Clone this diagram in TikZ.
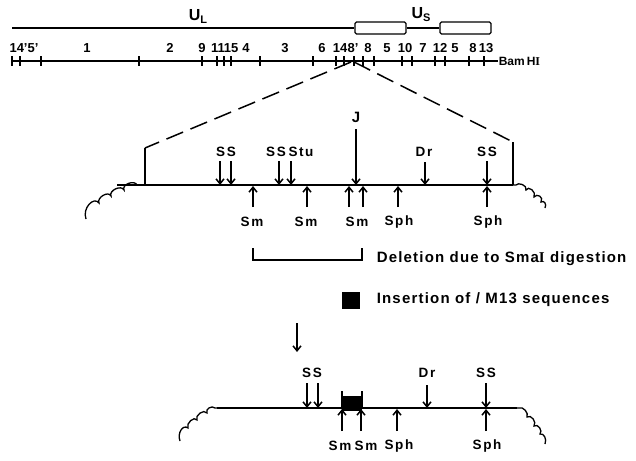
\documentclass[tikz,border=0pt]{standalone}
\usepackage{fontspec}
\setmainfont{Liberation Sans}
\newfontfamily\labfont[LetterSpace=12]{Liberation Sans}
\newfontfamily\txtfont[LetterSpace=8]{Liberation Sans}
\newfontfamily\serifI{Liberation Serif}
\usetikzlibrary{arrows.meta}
\begin{document}
\begin{tikzpicture}[x=1pt,y=-1pt,line width=1.5pt,
  num/.style={font=\fontsize{13}{13}\selectfont\bfseries, inner sep=0pt},
  site/.style={font=\labfont\fontsize{13.5}{13.5}\selectfont\bfseries, inner sep=0pt},
  legend/.style={font=\txtfont\fontsize{15}{15}\selectfont\bfseries, inner sep=0pt, anchor=west},
  arr/.style={-{Straight Barb[length=5pt,width=8pt]}, line width=1.5pt},
  longdash/.style={dash pattern=on 18pt off 8pt, line width=1.5pt},
  tick/.style={line width=1.3pt},
  regbox/.style={draw, rounded corners=1.5pt, minimum width=51pt, minimum height=12pt, inner sep=0pt, line width=1.4pt}]
\useasboundingbox (0,0) rectangle (636,460);

% ---------- top map ----------
\coordinate (ulstart) at (12,28);
\node[regbox] (box1) at (380.5,28) {};
\node[regbox] (box2) at (465.5,28) {};
\draw (ulstart) -- (box1.west);
\draw (box1.east) -- (box2.west);
\node[font=\fontsize{16}{16}\selectfont\bfseries, inner sep=0pt] (ul) at (198,16) {U\raisebox{-3pt}{\fontsize{11}{11}\selectfont\bfseries L}};
\node[font=\fontsize{16}{16}\selectfont\bfseries, inner sep=0pt] (us) at (421,15) {U\raisebox{-3pt}{\fontsize{11}{11}\selectfont\bfseries S}};

% BamHI line
\coordinate (bstart) at (12,61);
\node[font=\fontsize{12}{12}\selectfont\bfseries, inner sep=0pt, anchor=west] (bam) at (498,61) {Bam\,H{\serifI I}};
\draw (bstart) -- (bam.west);
\foreach \x in {12,20,41,139,202,217,224,231,260,313,336,344,354,363,374,402,412,435,445,469,484}
  \draw[tick] (\x,56) -- (\x,66);
\foreach \x/\t in {24/14'5',87/1,170/2,202/9,218/11,231/15,246/4,285/3,322/6,340/14,353/8',368/8,387/5,405/10,423/7,440/12,455/5,473/8,486/13}
  \node[num] at (\x,48) {\t};

% ---------- expansion ----------
\coordinate (dl) at (351,62);
\coordinate (dr) at (354,62);
\coordinate (pl) at (145,148);
\coordinate (pr) at (513,142);
\coordinate (plb) at (145,185);
\coordinate (prb) at (513,185);
\draw[longdash] (dl) -- (pl);
\draw[longdash] (dr) -- (pr);
\draw (pl) -- (plb);
\draw (pr) -- (prb);

% main line with clouds
\coordinate (mstart) at (117,185);
\draw (mstart) -- (prb);
\draw[line width=1.3pt] (137,185) .. controls (134.5,179.5) and (121.5,184.5) .. (124,190)
  .. controls (121.5,184.5) and (108.5,190.5) .. (111,196)
  .. controls (108.5,190.5) and (96.5,197.5) .. (99,203)
  .. controls (94,196) and (82,208) .. (86,219);
\draw[line width=1.3pt] (prb) -- (516,185) .. controls (518,182) and (527.5,185) .. (526,190)
  .. controls (528,185) and (537,192) .. (534,197)
  .. controls (537,193) and (544,197) .. (541,202)
  .. controls (544,200) and (547,204) .. (545,208);

% sites above
\foreach \n/\x/\y in {a1/220/161,a2/231/161,a3/279/161,a4/291/161,a5/425/162,a6/487/161}{
  \coordinate (\n t) at (\x,\y); \coordinate (\n b) at (\x,185);
  \draw[arr] (\n t) -- (\n b);}
\coordinate (jt) at (356,129); \coordinate (jb) at (356,185);
\draw[arr] (jt) -- (jb);
\node[site] (ss1) at (226,152) {SS};
\node[site] (ss2) at (276,152) {SS};
\node[site] (stu) at (301,152) {Stu};
\node[site, font=\labfont\fontsize{15}{15}\selectfont\bfseries] (jl) at (356,117) {J};
\node[site] (dr1) at (424,152) {Dr};
\node[site] (ss3) at (487,152) {SS};

% sites below
\foreach \n/\x in {b1/253,b2/307,b3/349,b4/363,b5/398,b6/487}{
  \coordinate (\n t) at (\x,207); \coordinate (\n b) at (\x,186);
  \draw[arr] (\n t) -- (\n b);}
\node[site] (sm1) at (252,222) {Sm};
\node[site] (sm2) at (306,222) {Sm};
\node[site] (sm3) at (357,222) {Sm};
\node[site] (sph1) at (399,222) {Sph};
\node[site] (sph2) at (488,222) {Sph};

% ---------- legend ----------
\coordinate (brl) at (253,248);
\coordinate (brr) at (362,248);
\draw[line width=1.3pt] (brl) -- (253,260) -- (362,260) -- (brr);
\node[legend] (del) at (376,259) {Deletion due to Sma{\serifI I} digestion};
\node[fill=black, minimum width=18pt, minimum height=17pt, inner sep=0pt] (leg) at (351,300) {};
\node[legend] (ins) at (376,300) {Insertion of / M13 sequences};

% ---------- result ----------
\coordinate (rt) at (297,323); \coordinate (rb) at (297,352);
\draw[arr] (rt) -- (rb);

\coordinate (lstart) at (217,408);
\coordinate (lend) at (517,408);
\draw (lstart) -- (lend);
\draw[line width=1.3pt] (lstart) -- (215,408) .. controls (212,405) and (205,409) .. (207,413)
  .. controls (204,408.5) and (194.5,415.5) .. (197,420)
  .. controls (194.5,415.5) and (185.5,423.5) .. (188,428)
  .. controls (183,424) and (177,433) .. (180,441);
\draw[line width=1.3pt] (lend) -- (519,408) .. controls (523,406) and (529,413) .. (527,417)
  .. controls (531,414) and (537,422) .. (534,426)
  .. controls (538,423) and (543,431) .. (540,434)
  .. controls (544,433) and (547,439) .. (545,444);

% insertion block
\fill (342,396) rectangle (362,411);
\draw[line width=1.3pt] (342,391) -- (342,408);
\draw[line width=1.3pt] (362,391) -- (362,408);

\foreach \n/\x/\y in {c1/307/383,c2/318/383,c3/427/385,c4/486/383}{
  \coordinate (\n t) at (\x,\y); \coordinate (\n b) at (\x,408);
  \draw[arr] (\n t) -- (\n b);}
\node[site] (ss4) at (312,373) {SS};
\node[site] (dr2) at (427,373) {Dr};
\node[site] (ss5) at (486,373) {SS};

\foreach \n/\x in {d1/342,d2/361,d3/397,d4/486}{
  \coordinate (\n t) at (\x,431); \coordinate (\n b) at (\x,409);
  \draw[arr] (\n t) -- (\n b);}
\node[site] (sm4) at (340,446) {Sm};
\node[site] (sm5) at (366,446) {Sm};
\node[site] (sph3) at (399,446) {Sph};
\node[site] (sph4) at (487,446) {Sph};
\end{tikzpicture}
\end{document}
